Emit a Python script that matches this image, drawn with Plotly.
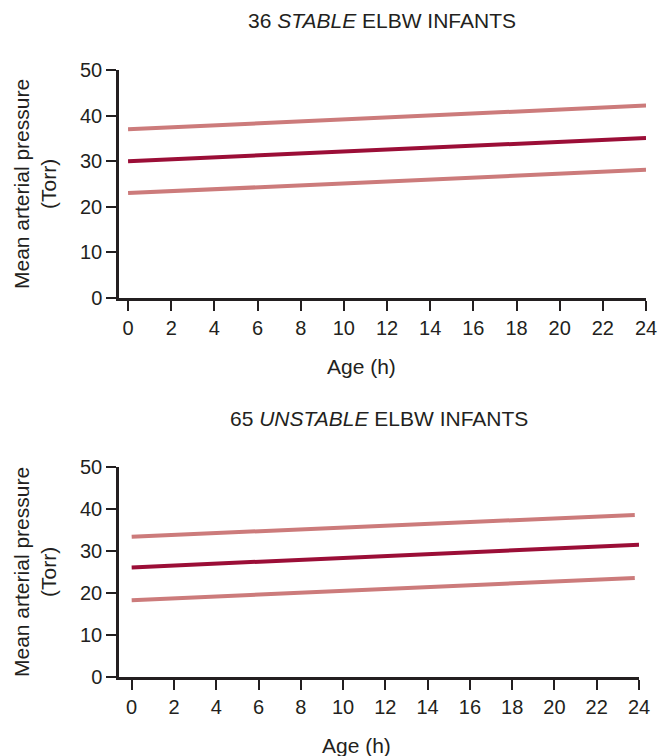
import plotly.graph_objects as go

W, H = 658, 756

# ---- data ----
hours = [0, 24]
stable_upper = [37.0, 42.2]
stable_mean = [30.0, 35.1]
stable_lower = [23.0, 28.1]

unstable_hours_band = [0, 23.8]
unstable_upper = [33.4, 38.6]
unstable_mean = [26.1, 31.5]
unstable_lower = [18.3, 23.6]

x_ticks = list(range(0, 25, 2))
y_ticks = [0, 10, 20, 30, 40, 50]

titles = ["36 <i>STABLE</i> ELBW INFANTS", "65 <i>UNSTABLE</i> ELBW INFANTS"]
x_title = "Age (h)"
y_title = "Mean arterial pressure<br>(Torr)"

DARK = "#9B0E37"
LIGHT = "#CC7B7B"
AXIS = "#231F20"
FONT = "Liberation Sans, Arial, sans-serif"
TICK_SIZE = 20
TITLE_SIZE = 21

fig = go.Figure()

def add(xv, yv, color, xa, ya):
    fig.add_trace(go.Scatter(x=xv, y=yv, mode="lines",
                             line=dict(color=color, width=4),
                             xaxis=xa, yaxis=ya, showlegend=False,
                             hoverinfo="skip"))

add(hours, stable_upper, LIGHT, "x", "y")
add(hours, stable_lower, LIGHT, "x", "y")
add(hours, stable_mean, DARK, "x", "y")
add(unstable_hours_band, unstable_upper, LIGHT, "x2", "y2")
add(unstable_hours_band, unstable_lower, LIGHT, "x2", "y2")
add(hours, unstable_mean, DARK, "x2", "y2")

def px_x(p):
    return p / W

def px_y(p):
    return 1 - p / H

tickfont = dict(family=FONT, size=TICK_SIZE, color=AXIS)
common_x = dict(tickvals=x_ticks, ticks="outside", ticklen=10, tickwidth=1.5,
                tickcolor=AXIS, showline=True, linecolor=AXIS, linewidth=2.5,
                showgrid=False, zeroline=False, tickfont=tickfont,
                automargin=False, fixedrange=True)
common_y = dict(tickvals=y_ticks, range=[0, 50], ticks="outside", ticklen=10, tickwidth=1.5,
                tickcolor=AXIS, showline=True, linecolor=AXIS, linewidth=2.5,
                showgrid=False, zeroline=False, tickfont=tickfont,
                automargin=False, fixedrange=True)

def ann(text, x, y, size, angle=0):
    return dict(text=text, x=px_x(x), y=px_y(y), xref="paper", yref="paper",
                showarrow=False, xanchor="center", yanchor="middle", textangle=angle,
                font=dict(family=FONT, size=size, color=AXIS))

fig.update_layout(
    width=W, height=H,
    margin=dict(l=0, r=0, t=0, b=0, autoexpand=False),
    paper_bgcolor="white", plot_bgcolor="white",
    xaxis=dict(common_x, domain=[px_x(119), px_x(646)], range=[-0.42, 24], anchor="y"),
    yaxis=dict(common_y, domain=[px_y(298), px_y(70)], anchor="x"),
    xaxis2=dict(common_x, domain=[px_x(119), px_x(639)], range=[-0.6, 24], anchor="y2"),
    yaxis2=dict(common_y, domain=[px_y(677), px_y(467)], anchor="x2"),
    annotations=[
        ann(titles[0], 382, 20, TITLE_SIZE),
        ann(titles[1], 379, 418, TITLE_SIZE),
        ann(x_title, 361, 366, TITLE_SIZE),
        ann(x_title, 357, 745, TITLE_SIZE),
        ann(y_title, 35, 184, TITLE_SIZE, -90),
        ann(y_title, 35, 572, TITLE_SIZE, -90),
    ],
)

fig.write_html("out.html",
               config={"displayModeBar": False},
               post_script="document.body.style.margin='0';document.body.style.overflow='hidden';")
